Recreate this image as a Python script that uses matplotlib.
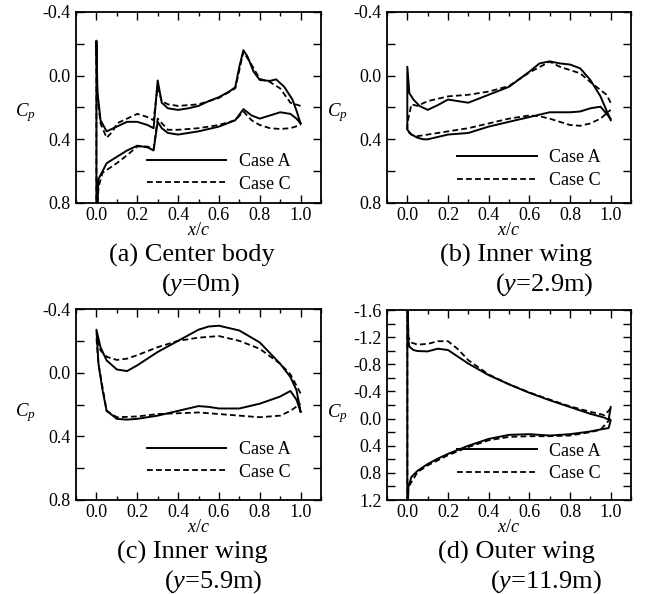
import matplotlib
matplotlib.use("Agg")
import matplotlib.pyplot as plt
import numpy as np
from matplotlib.ticker import MultipleLocator, FormatStrFormatter

plt.rcParams['font.family'] = ['Liberation Serif', 'DejaVu Serif']
plt.rcParams['mathtext.fontset'] = 'custom'
plt.rcParams['mathtext.rm'] = 'Liberation Serif'
plt.rcParams['mathtext.it'] = 'Liberation Serif:italic'

# ---------------- Data ----------------
# Panel (a) Center body, y=0m
a_xu_A = [0.0, 0.005, 0.02, 0.05, 0.1, 0.15, 0.2, 0.25, 0.28, 0.3, 0.32, 0.35, 0.4, 0.45, 0.5, 0.55, 0.6, 0.65, 0.68, 0.7, 0.72, 0.74, 0.77, 0.8, 0.85, 0.88, 0.92, 0.96, 0.98, 1.0]
a_cu_A = [-0.22, 0.10, 0.28, 0.35, 0.32, 0.29, 0.29, 0.31, 0.33, 0.03, 0.17, 0.205, 0.215, 0.205, 0.19, 0.16, 0.135, 0.10, 0.073, -0.056, -0.16, -0.12, -0.025, 0.027, 0.033, 0.023, 0.07, 0.15, 0.22, 0.30]
a_xl_A = [0.0, 0.01, 0.05, 0.1, 0.15, 0.2, 0.25, 0.28, 0.3, 0.32, 0.35, 0.4, 0.5, 0.6, 0.68, 0.72, 0.76, 0.8, 0.85, 0.9, 0.95, 0.98, 1.0]
a_cl_A = [1.0, 0.65, 0.55, 0.51, 0.47, 0.44, 0.45, 0.47, 0.29, 0.33, 0.36, 0.37, 0.35, 0.32, 0.28, 0.21, 0.25, 0.27, 0.25, 0.23, 0.24, 0.27, 0.30]
a_xu_C = [0.0, 0.005, 0.02, 0.05, 0.08, 0.1, 0.15, 0.2, 0.25, 0.28, 0.3, 0.32, 0.35, 0.4, 0.5, 0.6, 0.68, 0.72, 0.75, 0.8, 0.85, 0.9, 0.95, 1.0]
a_cu_C = [-0.20, 0.12, 0.30, 0.39, 0.35, 0.30, 0.27, 0.24, 0.26, 0.28, 0.07, 0.16, 0.18, 0.19, 0.18, 0.14, 0.08, -0.15, -0.09, 0.02, 0.04, 0.08, 0.17, 0.19]
a_xl_C = [0.0, 0.01, 0.03, 0.1, 0.15, 0.2, 0.25, 0.28, 0.3, 0.35, 0.4, 0.5, 0.6, 0.68, 0.72, 0.76, 0.8, 0.85, 0.9, 0.95, 1.0]
a_cl_C = [1.0, 0.70, 0.61, 0.55, 0.50, 0.445, 0.445, 0.46, 0.27, 0.34, 0.34, 0.33, 0.31, 0.28, 0.225, 0.28, 0.31, 0.33, 0.335, 0.33, 0.31]

# Panel (b) Inner wing, y=2.9m
b_xu_A = [0.0, 0.01, 0.03, 0.06, 0.1, 0.15, 0.2, 0.25, 0.3, 0.4, 0.5, 0.6, 0.65, 0.7, 0.75, 0.8, 0.85, 0.9, 0.95, 1.0]
b_cu_A = [-0.056, 0.11, 0.15, 0.19, 0.215, 0.185, 0.15, 0.16, 0.17, 0.12, 0.07, -0.025, -0.077, -0.09, -0.077, -0.07, -0.046, 0.027, 0.13, 0.28]
b_xl_A = [0.0, 0.02, 0.05, 0.08, 0.1, 0.2, 0.3, 0.4, 0.5, 0.6, 0.7, 0.8, 0.85, 0.9, 0.95, 1.0]
b_cl_A = [0.34, 0.37, 0.39, 0.40, 0.40, 0.37, 0.36, 0.32, 0.29, 0.26, 0.23, 0.23, 0.225, 0.205, 0.195, 0.27]
b_xu_C = [0.0, 0.02, 0.05, 0.1, 0.2, 0.3, 0.4, 0.5, 0.6, 0.7, 0.75, 0.8, 0.85, 0.9, 0.95, 0.98, 1.0]
b_cu_C = [0.30, 0.18, 0.19, 0.16, 0.13, 0.12, 0.10, 0.065, -0.02, -0.088, -0.056, -0.035, -0.015, 0.04, 0.09, 0.12, 0.17]
b_xl_C = [0.0, 0.02, 0.05, 0.1, 0.2, 0.3, 0.4, 0.5, 0.6, 0.65, 0.7, 0.8, 0.85, 0.9, 0.95, 1.0]
b_cl_C = [0.35, 0.37, 0.38, 0.37, 0.35, 0.33, 0.30, 0.27, 0.25, 0.255, 0.27, 0.31, 0.315, 0.30, 0.27, 0.215]

# Panel (c) Inner wing, y=5.9m
c_xu_A = [0.0, 0.02, 0.05, 0.1, 0.15, 0.2, 0.25, 0.3, 0.4, 0.5, 0.55, 0.6, 0.7, 0.8, 0.9, 0.95, 0.98, 1.0]
c_cu_A = [-0.27, -0.16, -0.077, -0.02, -0.01, -0.046, -0.088, -0.13, -0.20, -0.27, -0.29, -0.295, -0.265, -0.19, -0.056, 0.027, 0.11, 0.245]
c_xl_A = [0.0, 0.01, 0.03, 0.05, 0.1, 0.15, 0.2, 0.3, 0.4, 0.5, 0.55, 0.6, 0.7, 0.8, 0.9, 0.95, 0.98, 1.0]
c_cl_A = [-0.27, -0.056, 0.11, 0.24, 0.29, 0.295, 0.29, 0.27, 0.24, 0.21, 0.215, 0.225, 0.225, 0.195, 0.15, 0.115, 0.17, 0.245]
c_xu_C = [0.0, 0.02, 0.05, 0.1, 0.15, 0.2, 0.3, 0.4, 0.5, 0.6, 0.7, 0.8, 0.9, 0.95, 1.0]
c_cu_C = [-0.22, -0.14, -0.10, -0.08, -0.088, -0.11, -0.16, -0.20, -0.22, -0.23, -0.20, -0.15, -0.056, 0.01, 0.13]
c_xl_C = [0.0, 0.01, 0.05, 0.1, 0.2, 0.3, 0.4, 0.5, 0.6, 0.7, 0.8, 0.9, 0.95, 1.0]
c_cl_C = [-0.22, -0.056, 0.24, 0.28, 0.275, 0.26, 0.255, 0.25, 0.26, 0.27, 0.28, 0.27, 0.24, 0.195]

# Panel (d) Outer wing, y=11.9m
d_xu_A = [0.0, 0.005, 0.01, 0.03, 0.05, 0.1, 0.15, 0.2, 0.25, 0.3, 0.4, 0.5, 0.6, 0.7, 0.8, 0.9, 0.97, 0.99, 1.0]
d_cu_A = [-2.0, -1.16, -1.06, -1.01, -0.995, -0.99, -1.03, -1.01, -0.91, -0.81, -0.64, -0.505, -0.38, -0.27, -0.17, -0.07, -0.013, 0.017, -0.17]
d_xl_A = [0.0, 0.005, 0.02, 0.05, 0.1, 0.15, 0.2, 0.3, 0.4, 0.5, 0.6, 0.7, 0.8, 0.9, 0.95, 0.99, 1.0]
d_cl_A = [1.6, 1.01, 0.86, 0.77, 0.67, 0.59, 0.52, 0.40, 0.30, 0.24, 0.23, 0.25, 0.23, 0.19, 0.16, 0.14, 0.03]
d_xu_C = [0.0, 0.005, 0.02, 0.05, 0.1, 0.15, 0.2, 0.25, 0.3, 0.4, 0.5, 0.6, 0.7, 0.8, 0.9, 0.97, 1.0]
d_cu_C = [-2.0, -1.20, -1.12, -1.09, -1.10, -1.14, -1.14, -1.02, -0.86, -0.65, -0.505, -0.385, -0.28, -0.18, -0.10, -0.05, -0.15]
d_xl_C = [0.0, 0.005, 0.05, 0.1, 0.2, 0.3, 0.4, 0.5, 0.6, 0.7, 0.8, 0.9, 0.95, 1.0]
d_cl_C = [1.6, 1.01, 0.79, 0.69, 0.54, 0.42, 0.32, 0.27, 0.26, 0.26, 0.25, 0.20, 0.165, 0.0]

labels = ["Case A", "Case C"]
captions = [("(a) Center body", "0m)"), ("(b) Inner wing", "2.9m)"),
            ("(c) Inner wing", "5.9m)"), ("(d) Outer wing", "11.9m)")]
ylims = [(-0.4, 0.8), (-0.4, 0.8), (-0.4, 0.8), (-1.6, 1.2)]

panels = [
    ((a_xu_A, a_cu_A, a_xl_A, a_cl_A), (a_xu_C, a_cu_C, a_xl_C, a_cl_C)),
    ((b_xu_A, b_cu_A, b_xl_A, b_cl_A), (b_xu_C, b_cu_C, b_xl_C, b_cl_C)),
    ((c_xu_A, c_cu_A, c_xl_A, c_cl_A), (c_xu_C, c_cu_C, c_xl_C, c_cl_C)),
    ((d_xu_A, d_cu_A, d_xl_A, d_cl_A), (d_xu_C, d_cu_C, d_xl_C, d_cl_C)),
]

# ---------------- Layout ----------------
W, H = 648, 594
fig = plt.figure(figsize=(W / 100, H / 100), dpi=100)

boxes = [(76, 12, 321, 203), (387, 12, 631, 203), (76, 309, 321, 500), (387, 310, 631, 500)]
leg_anchor = [(0.29, 0.158), (0.2875, 0.177), (0.29, 0.204), (0.2875, 0.198)]
cp_y = [0.475, 0.475, 0.46, 0.455]
cap1_pos = [(192, 255), (516, 255), (192, 552), (516, 552)]
cap2_pos = [(200, 285), (544, 285), (213, 582), (546, 582)]

styles = [dict(color='black', lw=1.4, ls='-'),
          dict(color='black', lw=1.3, ls=(0, (3.2, 1.8)))]

for i, (box, data) in enumerate(zip(boxes, panels)):
    l, t, r, b = box
    ax = fig.add_axes([l / W, 1 - b / H, (r - l) / W, (b - t) / H])
    for case, st, lab in zip(data, styles, labels):
        xu, cu, xl, cl = case
        xs = list(reversed(xu)) + list(xl)
        cs = list(reversed(cu)) + list(cl)
        ax.plot(xs, cs, label=lab, **st)
    ax.set_xlim(-0.1, 1.1)
    ax.set_ylim(ylims[i][1], ylims[i][0])
    ax.xaxis.set_major_locator(MultipleLocator(0.2))
    ax.xaxis.set_minor_locator(MultipleLocator(0.1))
    ax.xaxis.set_major_formatter(FormatStrFormatter('%.1f'))
    ax.yaxis.set_major_locator(MultipleLocator(0.4))
    ax.yaxis.set_minor_locator(MultipleLocator(0.2))
    ax.yaxis.set_major_formatter(FormatStrFormatter('%.1f'))
    ax.tick_params(which='both', direction='in', top=True, right=True, labelsize=13, width=1.0)
    ax.tick_params(axis='x', which='major', length=6, pad=3)
    ax.tick_params(axis='x', which='minor', length=3)
    ax.tick_params(axis='y', which='both', length=6, pad=4)
    for sp in ax.spines.values():
        sp.set_linewidth(1.3)
    ax.set_xlabel(r'$x/c$', fontsize=13, labelpad=-1.5)
    ax.set_ylabel(r'$C_p$', fontsize=13.5, rotation=0, va='center', ha='center')
    ax.yaxis.set_label_coords(-0.205, cp_y[i])
    ax.legend(loc='center left', bbox_to_anchor=leg_anchor[i], frameon=False,
              fontsize=13, handlelength=4.4, handletextpad=0.7, labelspacing=0.3,
              borderpad=0, borderaxespad=0)
    c1, post = captions[i]
    fig.text(cap1_pos[i][0] / W, 1 - cap1_pos[i][1] / H, c1, fontsize=19,
             ha='center', va='center')
    fig.text(cap2_pos[i][0] / W, 1 - cap2_pos[i][1] / H, r'(' + r'$\mathit{y}$' + '=' + post,
             fontsize=19, ha='center', va='center')

fig.savefig('out.png', dpi=100)
